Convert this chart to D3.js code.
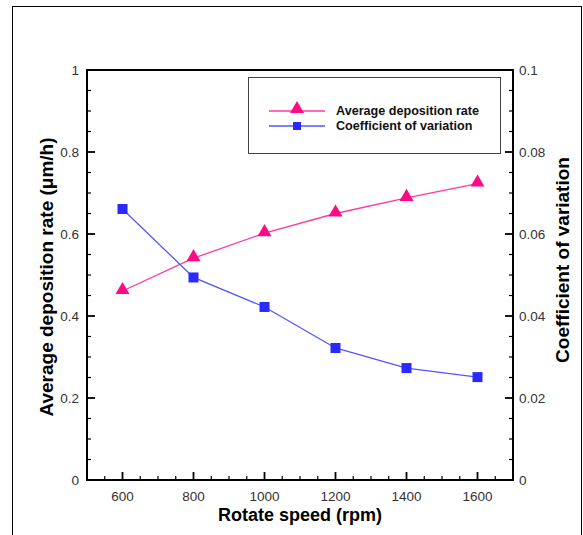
<!DOCTYPE html>
<meta charset='utf-8'>
<title>Deposition rate vs rotate speed</title>
<style>
html, body { margin: 0; padding: 0; background: #fff; }
svg { display: block; font-family: 'Liberation Sans', Arial, sans-serif; }
</style>
<script src='https://d3js.org/d3.v7.min.js'></script>
<body>
<script>
// Data
var speeds = [600, 800, 1000, 1200, 1400, 1600];
var depRate = [0.461, 0.541, 0.602, 0.650, 0.688, 0.723];
var cv = [0.0661, 0.0494, 0.0422, 0.0322, 0.0273, 0.0251];
var xTicks = [600, 800, 1000, 1200, 1400, 1600];
var yLeftTicks = [0, 0.2, 0.4, 0.6, 0.8, 1];
var yRightTicks = [0, 0.02, 0.04, 0.06, 0.08, 0.1];
var seriesNames = ['Average deposition rate', 'Coefficient of variation'];

var W = 583, H = 535;
// note: "top" is taken by window.top, so use pLeft etc.
var pLeft = 87, pRight = 513, pTop = 70, pBottom = 480;

var pink = '#ff0a84', pinkLine = '#ff3a9c';
var blue = '#2a2aff', blueLine = '#5555ff';

var svg = d3.select('body').append('svg').attr('width', W).attr('height', H);

// outer frame
svg.append('rect')
  .attr('x', 12.5).attr('y', 6.5).attr('width', 569).attr('height', 540)
  .attr('fill', 'none').attr('stroke', '#000').attr('stroke-width', 1);

var x = d3.scaleLinear().domain([500, 1700]).range([pLeft, pRight]);
var yL = d3.scaleLinear().domain([0, 1]).range([pBottom, pTop]);
var yR = d3.scaleLinear().domain([0, 0.1]).range([pBottom, pTop]);

var g = svg.append('g');

// minor + major ticks (inward)
var tickG = g.append('g').attr('stroke', '#000');
d3.range(550, 1700, 50).forEach(function (v) {
  var major = v % 200 === 0;
  tickG.append('line').attr('x1', x(v)).attr('x2', x(v))
    .attr('y1', pBottom).attr('y2', pBottom - (major ? 8 : 4))
    .attr('stroke-width', major ? 1.8 : 1.2);
});
d3.range(1, 20).forEach(function (k) {
  var v = k * 0.05;
  var major = k % 4 === 0;
  tickG.append('line').attr('x1', pLeft).attr('x2', pLeft + (major ? 8 : 4))
    .attr('y1', yL(v)).attr('y2', yL(v)).attr('stroke-width', major ? 1.8 : 1.2);
  tickG.append('line').attr('x1', pRight).attr('x2', pRight - (major ? 8 : 4))
    .attr('y1', yL(v)).attr('y2', yL(v)).attr('stroke-width', major ? 1.8 : 1.2);
});

// plot frame
g.append('rect')
  .attr('x', pLeft).attr('y', pTop).attr('width', pRight - pLeft).attr('height', pBottom - pTop)
  .attr('fill', 'none').attr('stroke', '#000').attr('stroke-width', 2);

// tick labels
var lab = g.append('g').attr('font-size', 13.5).attr('fill', '#333');
xTicks.forEach(function (v) {
  lab.append('text').attr('x', x(v)).attr('y', 501).attr('text-anchor', 'middle').text(v);
});
yLeftTicks.forEach(function (v) {
  lab.append('text').attr('x', 79).attr('y', yL(v) + 5).attr('text-anchor', 'end').text(v);
});
yRightTicks.forEach(function (v) {
  lab.append('text').attr('x', 519).attr('y', yR(v) + 5).attr('text-anchor', 'start').text(v);
});

// axis titles
svg.append('text').attr('x', (pLeft + pRight) / 2).attr('y', 521)
  .attr('text-anchor', 'middle').attr('font-size', 18).attr('font-weight', 'bold')
  .text('Rotate speed (rpm)');
svg.append('text').attr('transform', 'translate(53,' + 277 + ')rotate(-90)')
  .attr('text-anchor', 'middle').attr('font-size', 19).attr('font-weight', 'bold')
  .text('Average deposition rate (\u03bcm/h)');
svg.append('text').attr('transform', 'translate(569,' + 260 + ')rotate(-90)')
  .attr('text-anchor', 'middle').attr('font-size', 19).attr('font-weight', 'bold')
  .text('Coefficient of variation');

// series
var triangle = d3.symbol().type(d3.symbolTriangle).size(85);

var lineL = d3.line().x(function (d, i) { return x(speeds[i]); }).y(function (d) { return yL(d); });
var lineR = d3.line().x(function (d, i) { return x(speeds[i]); }).y(function (d) { return yR(d); });

g.append('path').datum(depRate).attr('d', lineL)
  .attr('fill', 'none').attr('stroke', pinkLine).attr('stroke-width', 1.3);
g.append('path').datum(cv).attr('d', lineR)
  .attr('fill', 'none').attr('stroke', blueLine).attr('stroke-width', 1.3);

g.selectAll('.tri').data(depRate).enter().append('path')
  .attr('class', 'tri').attr('d', triangle)
  .attr('transform', function (d, i) { return 'translate(' + x(speeds[i]) + ',' + (yL(d) - 1) + ')'; })
  .attr('fill', pink);
g.selectAll('.sq').data(cv).enter().append('rect')
  .attr('class', 'sq')
  .attr('x', function (d, i) { return x(speeds[i]) - 5; })
  .attr('y', function (d) { return yR(d) - 5; })
  .attr('width', 10).attr('height', 10)
  .attr('fill', blue);

// legend
var lg = svg.append('g');
lg.append('rect').attr('x', 248.5).attr('y', 77.5).attr('width', 252).attr('height', 76)
  .attr('fill', '#fff').attr('stroke', '#444').attr('stroke-width', 1);
var rows = [
  { name: seriesNames[0], y: 111, line: pinkLine, fill: pink, shape: 'tri' },
  { name: seriesNames[1], y: 126, line: blueLine, fill: blue, shape: 'sq' }
];
rows.forEach(function (r) {
  lg.append('line').attr('x1', 269).attr('x2', 325).attr('y1', r.y).attr('y2', r.y)
    .attr('stroke', r.line).attr('stroke-width', 1.3);
  if (r.shape === 'tri') {
    lg.append('path').attr('d', triangle).attr('transform', 'translate(297,' + (r.y - 2) + ')').attr('fill', r.fill);
  } else {
    lg.append('rect').attr('x', 293).attr('y', r.y - 4).attr('width', 8).attr('height', 8).attr('fill', r.fill);
  }
  lg.append('text').attr('x', 336).attr('y', r.y + 4).attr('font-size', 12.6)
    .attr('font-weight', 'bold').attr('fill', '#111').text(r.name);
});
</script>
</body>
